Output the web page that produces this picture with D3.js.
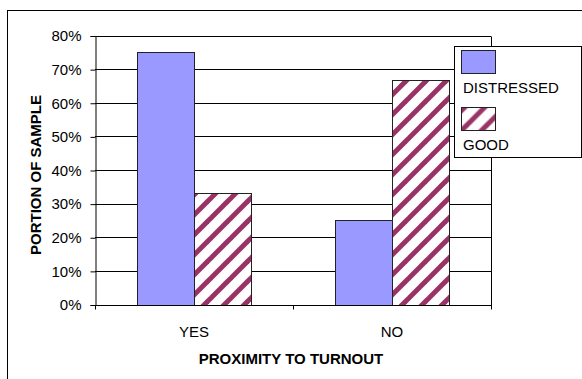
<!DOCTYPE html>
<html>
<head>
<meta charset="utf-8">
<script src="https://cdn.jsdelivr.net/npm/d3@7"></script>
<style>
  html, body { margin: 0; padding: 0; background: #fff; }
  svg { display: block; font-family: Arial, "Liberation Sans", sans-serif; }
</style>
</head>
<body>
<svg id="chart" width="582" height="379"></svg>
<script>
// Share of sample by proximity to turnout
const categories = ["YES", "NO"];
const seriesNames = ["DISTRESSED", "GOOD"];
const distressed = [0.75, 0.25];
const good = [0.333, 0.667];
const yTicks = [0, 0.1, 0.2, 0.3, 0.4, 0.5, 0.6, 0.7, 0.8];

const seriesValues = { DISTRESSED: distressed, GOOD: good };

const svg = d3.select("#chart");
const W = 582, H = 379;
const plot = { left: 95, right: 491, top: 35.5, bottom: 304.5 };

// Pattern for the GOOD series: plum diagonal stripes on white
const defs = svg.append("defs");
const pat = defs.append("pattern")
  .attr("id", "hatch")
  .attr("patternUnits", "userSpaceOnUse")
  .attr("x", 14).attr("y", 0)
  .attr("width", 20).attr("height", 20);
pat.append("rect").attr("width", 20).attr("height", 20).attr("fill", "#fff");
[[-5, 5, 5, -5], [0, 20, 20, 0], [15, 25, 25, 15]].forEach(([x1, y1, x2, y2]) => {
  pat.append("line")
    .attr("x1", x1).attr("y1", y1).attr("x2", x2).attr("y2", y2)
    .attr("stroke", "#993366").attr("stroke-width", 5);
});

const fills = { DISTRESSED: "#9999FF", GOOD: "url(#hatch)" };

// Chart area frame
svg.append("rect")
  .attr("x", 7.5).attr("y", 10.5)
  .attr("width", 700).attr("height", 500)
  .attr("fill", "#fff").attr("stroke", "#000");

// Scales
const x0 = d3.scaleBand().domain(categories).range([plot.left, plot.right]).padding(0);
const bw = x0.bandwidth();
const x1 = d3.scaleBand().domain(seriesNames).range([bw * 0.212, bw * 0.788]).padding(0);
const y = d3.scaleLinear().domain([0, 0.8]).range([plot.bottom, plot.top]);

// Horizontal gridlines
svg.append("g")
  .selectAll("line")
  .data(yTicks)
  .join("line")
  .attr("x1", plot.left).attr("x2", plot.right)
  .attr("y1", d => Math.round(y(d)) + 0.5).attr("y2", d => Math.round(y(d)) + 0.5)
  .attr("stroke", "#000").attr("stroke-width", 1);

// Right border of the plot area
svg.append("line")
  .attr("x1", plot.right + 0.5).attr("x2", plot.right + 0.5)
  .attr("y1", Math.round(y(0.8)) + 0.5).attr("y2", plot.bottom + 4)
  .attr("stroke", "#000");

// Bars
const groups = svg.append("g")
  .selectAll("g")
  .data(categories)
  .join("g")
  .attr("transform", d => `translate(${x0(d)},0)`);

groups.selectAll("rect")
  .data((c, i) => seriesNames.map(s => ({ s, v: seriesValues[s][i] })))
  .join("rect")
  .attr("x", d => Math.round(x1(d.s)) + 0.5)
  .attr("y", d => Math.round(y(d.v)) + 0.5)
  .attr("width", Math.round(x1.bandwidth()))
  .attr("height", d => Math.round(y(0)) - Math.round(y(d.v)))
  .attr("fill", d => fills[d.s])
  .attr("stroke", "#222").attr("stroke-width", 1);

// Y axis
const yAxis = d3.axisLeft(y)
  .tickValues(yTicks)
  .tickFormat(d3.format(".0%"))
  .tickSize(5)
  .tickPadding(9);
const gy = svg.append("g")
  .attr("transform", `translate(${plot.left + 0.5},0.5)`)
  .call(yAxis);
gy.select(".domain").attr("stroke", "#000");
gy.selectAll(".tick line").attr("stroke", "#000");
gy.selectAll(".tick text")
  .attr("font-size", 15).attr("fill", "#000")
  .attr("font-family", "Arial, 'Liberation Sans', sans-serif");

// X axis: ticks on category boundaries, labels at band centres
const gx = svg.append("g")
  .attr("transform", `translate(0,${Math.round(y(0)) + 0.5})`);
gx.append("line")
  .attr("x1", plot.left).attr("x2", plot.right + 1)
  .attr("stroke", "#000");
const boundaries = categories.map(c => x0(c)).concat([x0(categories[categories.length - 1]) + bw]);
gx.selectAll("line.tick")
  .data(boundaries)
  .join("line")
  .attr("class", "tick")
  .attr("x1", d => Math.round(d) + 0.5).attr("x2", d => Math.round(d) + 0.5)
  .attr("y1", 0).attr("y2", 4)
  .attr("stroke", "#000");
gx.selectAll("text")
  .data(categories)
  .join("text")
  .attr("x", d => x0(d) + bw / 2)
  .attr("y", 31.5)
  .attr("text-anchor", "middle")
  .attr("font-size", 15)
  .text(d => d);

// Axis titles
svg.append("text")
  .attr("x", (plot.left + plot.right) / 2 - 2)
  .attr("y", 363.5)
  .attr("text-anchor", "middle")
  .attr("font-size", 15).attr("font-weight", "bold")
  .text("PROXIMITY TO TURNOUT");

svg.append("text")
  .attr("transform", `translate(41,175) rotate(-90)`)
  .attr("text-anchor", "middle")
  .attr("font-size", 15).attr("font-weight", "bold")
  .text("PORTION OF SAMPLE");

// Legend
const legend = svg.append("g").attr("transform", "translate(454.5,46.5)");
legend.append("rect")
  .attr("width", 127).attr("height", 111)
  .attr("fill", "#fff").attr("stroke", "#000");
const items = legend.selectAll("g")
  .data(seriesNames)
  .join("g")
  .attr("transform", (d, i) => `translate(0,${i * 57})`);
items.append("rect")
  .attr("x", 7.5 - 0.5).attr("y", 4.5 - 0.5)
  .attr("width", 34).attr("height", 23)
  .attr("fill", d => fills[d])
  .attr("stroke", "#222");
items.append("text")
  .attr("x", 8.5).attr("y", 46.5)
  .attr("font-size", 15)
  .text(d => d);
</script>
</body>
</html>
